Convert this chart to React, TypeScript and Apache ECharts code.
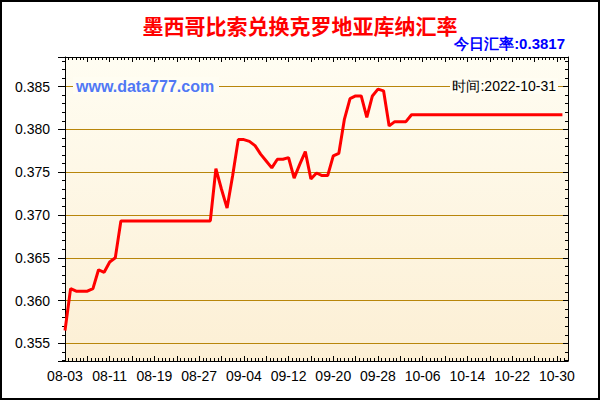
import { useEffect, useRef } from "react"
import * as echarts from "echarts"

// daily MXN -> HRK rate, 2022-08-03 .. 2022-10-31
const rates = [
  0.3565, 0.3614, 0.3611, 0.3611, 0.3611, 0.3614, 0.3636, 0.3633, 0.3645, 0.365,
  0.3693, 0.3693, 0.3693, 0.3693, 0.3693, 0.3693, 0.3693, 0.3693, 0.3693, 0.3693,
  0.3693, 0.3693, 0.3693, 0.3693, 0.3693, 0.3693, 0.3693,
  0.3754, 0.373, 0.3708, 0.3746, 0.3788, 0.3788, 0.3786, 0.3781, 0.3771, 0.3763,
  0.3755, 0.3765, 0.3765, 0.3767, 0.3743, 0.3759, 0.3774, 0.3742, 0.3749, 0.3746,
  0.3746, 0.3769, 0.3772, 0.3812, 0.3836, 0.3839, 0.3839, 0.3814, 0.3839, 0.3847,
  0.3845, 0.3804, 0.3809, 0.3809, 0.3809, 0.3817,
  0.3817, 0.3817, 0.3817, 0.3817, 0.3817, 0.3817, 0.3817, 0.3817, 0.3817, 0.3817,
  0.3817, 0.3817, 0.3817, 0.3817, 0.3817, 0.3817, 0.3817, 0.3817, 0.3817, 0.3817,
  0.3817, 0.3817, 0.3817, 0.3817, 0.3817, 0.3817, 0.3817,
]

// one label every 8 days, starting at 08-03
const xTickLabels = [
  "08-03", "08-11", "08-19", "08-27", "09-04", "09-12",
  "09-20", "09-28", "10-06", "10-14", "10-22", "10-30",
]
const yTickLabels = ["0.355", "0.360", "0.365", "0.370", "0.375", "0.380", "0.385"]

const title = "墨西哥比索兑换克罗地亚库纳汇率"
const todayText = "今日汇率:0.3817"
const timeText = "时间:2022-10-31"
const siteText = "www.data777.com"

const FONT = "Arial, 'Liberation Sans', sans-serif"
const CJK = "'Noto Sans CJK SC', sans-serif"
const GRID_COLOR = "#B8860B"
const BG_TOP = "#FFFDF2"

export default function App() {
  const hostRef = useRef<HTMLDivElement>(null)

  useEffect(() => {
    const el = hostRef.current
    if (!el) return
    const chart = echarts.init(el, undefined, { renderer: "svg" })

    const yLabel = (v: number) => {
      const s = v.toFixed(3)
      return yTickLabels.includes(s) && Math.abs(v - Number(s)) < 1e-5 ? s : ""
    }
    const xLabel = (v: number) =>
      v % 8 === 0 && xTickLabels[v / 8] ? xTickLabels[v / 8] : ""

    const axisLine = { show: true, onZero: false, lineStyle: { color: "#000", width: 1 } }

    const xBase = {
      type: "value",
      min: 0,
      max: 90,
      interval: 4,
      splitLine: { show: false },
      axisLine,
      axisTick: { show: true, inside: true, length: 5, lineStyle: { color: "#000" } },
      minorTick: { show: true, splitNumber: 6, length: 3, lineStyle: { color: "#000" } },
    }
    const yBase = {
      type: "value",
      min: 0.35294,
      max: 0.38845,
      splitNumber: 8,
      axisLine,
      minorTick: { show: true, splitNumber: 5, length: 3, lineStyle: { color: "#000" } },
    }

    chart.setOption({
      animation: false,
      backgroundColor: "#fff",
      grid: {
        left: 65,
        right: 32,
        top: 57,
        bottom: 39,
        show: true,
        borderWidth: 0,
        backgroundColor: new echarts.graphic.LinearGradient(0, 0, 0, 1, [
          { offset: 0, color: BG_TOP },
          { offset: 1, color: "#FCEFD4" },
        ]),
      },
      xAxis: [
        {
          ...xBase,
          position: "bottom",
          axisLabel: {
            formatter: xLabel,
            color: "#000",
            fontSize: 14,
            fontFamily: FONT,
            margin: 8,
            showMaxLabel: false,
          },
        },
        {
          ...xBase,
          position: "top",
          axisLabel: { show: false },
        },
      ],
      yAxis: [
        {
          ...yBase,
          position: "left",
          axisTick: { show: true, length: 7, lineStyle: { color: "#000" } },
          axisLabel: {
            formatter: yLabel,
            color: "#000",
            fontSize: 14,
            fontFamily: FONT,
            margin: 15,
          },
          splitLine: { show: true, lineStyle: { color: GRID_COLOR, width: 1 } },
        },
        {
          ...yBase,
          position: "right",
          axisTick: { show: true, inside: true, length: 5, lineStyle: { color: "#000" } },
          minorTick: { show: true, splitNumber: 5, length: 3, lineStyle: { color: "#000" } },
          axisLabel: { show: false },
          splitLine: { show: false },
        },
      ],
      series: [
        {
          type: "line",
          xAxisIndex: 0,
          yAxisIndex: 0,
          data: rates.map((v, i) => [i, v]),
          showSymbol: false,
          lineStyle: { color: "#FF0000", width: 3 },
          z: 5,
        },
      ],
      graphic: [
        {
          type: "rect",
          shape: { x: 1, y: 1, width: 598, height: 398 },
          style: { fill: "none", stroke: "#000", lineWidth: 2 },
          z: 100,
        },
        {
          type: "text",
          x: 300,
          y: 25,
          style: {
            text: title,
            fill: "#FF0000",
            font: `bold 21px ${CJK}`,
            align: "center",
            verticalAlign: "middle",
          },
        },
        {
          type: "text",
          x: 565,
          y: 43,
          style: {
            text: todayText,
            fill: "#0000FF",
            font: `bold 15px ${FONT}`,
            align: "right",
            verticalAlign: "middle",
          },
        },
        {
          type: "rect",
          shape: { x: 73, y: 77, width: 146, height: 17 },
          style: { fill: BG_TOP },
          z: 10,
        },
        {
          type: "text",
          x: 76,
          y: 86,
          style: {
            text: siteText,
            fill: "#5078F5",
            font: `bold 16px ${FONT}`,
            align: "left",
            verticalAlign: "middle",
          },
          z: 11,
        },
        {
          type: "rect",
          shape: { x: 450, y: 78, width: 108, height: 16 },
          style: { fill: BG_TOP },
          z: 10,
        },
        {
          type: "text",
          x: 556,
          y: 86,
          style: {
            text: timeText,
            fill: "#000",
            font: `14px ${FONT}`,
            align: "right",
            verticalAlign: "middle",
          },
          z: 11,
        },
      ],
    })

    return () => {
      chart.dispose()
    }
  }, [])

  return (
    <div
      ref={hostRef}
      style={{ position: "fixed", left: 0, top: 0, width: 600, height: 400 }}
    />
  )
}
